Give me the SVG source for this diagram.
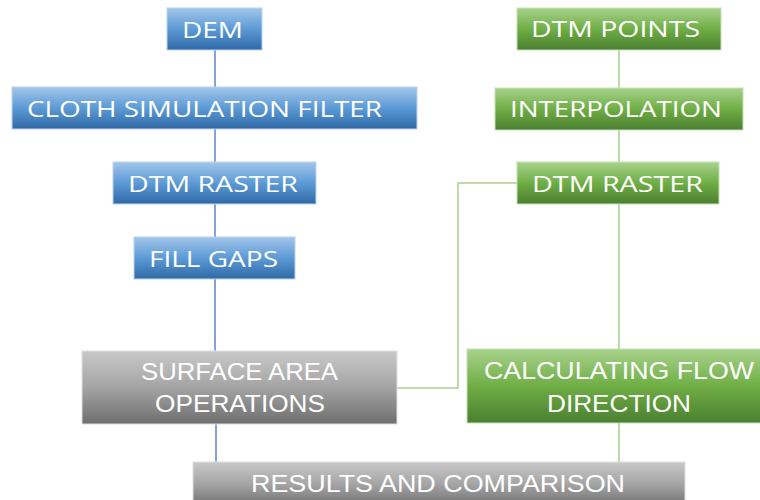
<svg xmlns="http://www.w3.org/2000/svg" width="760" height="500" viewBox="0 0 760 500">
<defs>
<linearGradient id="gb" x1="0" y1="0" x2="0" y2="1">
<stop offset="0" stop-color="#a3c6ea"/>
<stop offset="0.5" stop-color="#5c9ad6"/>
<stop offset="1" stop-color="#2f69a6"/>
</linearGradient>
<linearGradient id="gg" x1="0" y1="0" x2="0" y2="1">
<stop offset="0" stop-color="#a8d28c"/>
<stop offset="0.5" stop-color="#6fae45"/>
<stop offset="1" stop-color="#4b7f30"/>
</linearGradient>
<linearGradient id="gy" x1="0" y1="0" x2="0" y2="1">
<stop offset="0" stop-color="#c9c9c9"/>
<stop offset="0.5" stop-color="#a4a4a4"/>
<stop offset="1" stop-color="#6e6e6e"/>
</linearGradient>
<style>
.b{fill:url(#gb);stroke:#bcd4ee;stroke-width:1}
.g{fill:url(#gg);stroke:#c5e0b4;stroke-width:1}
.y{fill:url(#gy);stroke:#e0e0e0;stroke-width:1}
text{fill:#ffffff;font-family:"Open Sans","Liberation Sans",sans-serif;font-size:21px}
.c{font-family:"Liberation Sans",sans-serif;font-size:23px}
.lb{stroke:#4472c4;stroke-width:1.3;fill:none}
.lg{stroke:#a9d18e;stroke-width:1.5;fill:none}
</style>
</defs>
<g id="connectors">
<line class="lb" x1="215" y1="50" x2="215" y2="87"/>
<line class="lb" x1="215" y1="129" x2="215" y2="162"/>
<line class="lb" x1="215" y1="204" x2="215" y2="237"/>
<line class="lb" x1="215" y1="279" x2="215" y2="351"/>
<line class="lb" x1="216" y1="424" x2="216" y2="462"/>
<line class="lg" x1="619" y1="50" x2="619" y2="88"/>
<line class="lg" x1="619" y1="130" x2="619" y2="162"/>
<line class="lg" x1="619" y1="204" x2="619" y2="349"/>
<line class="lg" x1="619" y1="423" x2="619" y2="462"/>
<polyline class="lg" points="517,183 458,183 458,388 397,388"/>
</g>
<g id="dem"><rect class="b" x="167" y="8" width="95" height="42"/><text x="182" y="38" textLength="61" lengthAdjust="spacingAndGlyphs">DEM</text></g>
<g id="csf"><rect class="b" x="12" y="87" width="405" height="42"/><text x="27" y="117" textLength="355" lengthAdjust="spacingAndGlyphs">CLOTH SIMULATION FILTER</text></g>
<g id="dtm-raster-blue"><rect class="b" x="113" y="162" width="203" height="42"/><text x="128" y="192" textLength="170" lengthAdjust="spacingAndGlyphs">DTM RASTER</text></g>
<g id="fill-gaps"><rect class="b" x="134" y="237" width="161" height="42"/><text x="149" y="267" textLength="129" lengthAdjust="spacingAndGlyphs">FILL GAPS</text></g>
<g id="dtm-points"><rect class="g" x="517" y="8" width="204" height="42"/><text x="531" y="37" textLength="169" lengthAdjust="spacingAndGlyphs">DTM POINTS</text></g>
<g id="interpolation"><rect class="g" x="495" y="88" width="248" height="42"/><text x="510" y="117" textLength="212" lengthAdjust="spacingAndGlyphs">INTERPOLATION</text></g>
<g id="dtm-raster-green"><rect class="g" x="517" y="162" width="202" height="42"/><text x="532" y="192" textLength="171" lengthAdjust="spacingAndGlyphs">DTM RASTER</text></g>
<g id="surface-area"><rect class="y" x="82" y="351" width="315" height="73"/><text class="c" x="141" y="380" textLength="197" lengthAdjust="spacingAndGlyphs">SURFACE AREA</text><text class="c" x="155" y="412" textLength="170" lengthAdjust="spacingAndGlyphs">OPERATIONS</text></g>
<g id="calc-flow"><rect class="g" x="467" y="349" width="300" height="74"/><text class="c" x="484" y="379" textLength="270" lengthAdjust="spacingAndGlyphs">CALCULATING FLOW</text><text class="c" x="547" y="412" textLength="144" lengthAdjust="spacingAndGlyphs">DIRECTION</text></g>
<g id="results"><rect class="y" x="193" y="462" width="492" height="45"/><text class="c" x="251" y="492" textLength="374" lengthAdjust="spacingAndGlyphs">RESULTS AND COMPARISON</text></g>
</svg>
